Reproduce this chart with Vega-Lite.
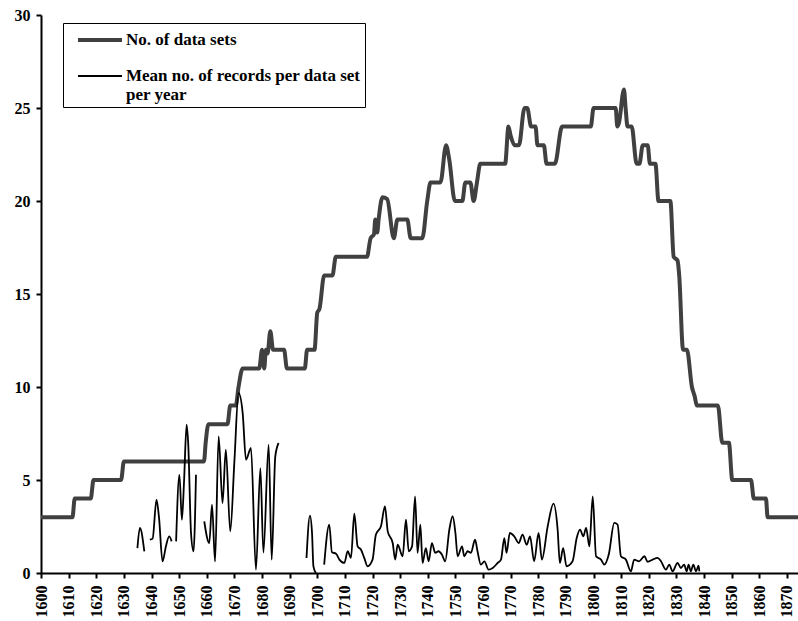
{
  "$schema": "https://vega.github.io/schema/vega-lite/v6.json",
  "width": 757,
  "height": 558,
  "autosize": {"type": "none"},
  "padding": {"left": 41, "top": 15, "right": 0, "bottom": 48},
  "background": "white",
  "config": {"view": {"stroke": null}, "font": "Liberation Serif"},
  "data": {"values": [
    {"s":"No. of data sets","g":"a","yr":1600,"v":3},
    {"s":"No. of data sets","g":"a","yr":1611.4,"v":3},
    {"s":"No. of data sets","g":"a","yr":1612.2,"v":4},
    {"s":"No. of data sets","g":"a","yr":1618,"v":4},
    {"s":"No. of data sets","g":"a","yr":1619,"v":5},
    {"s":"No. of data sets","g":"a","yr":1629,"v":5},
    {"s":"No. of data sets","g":"a","yr":1630,"v":6},
    {"s":"No. of data sets","g":"a","yr":1659,"v":6},
    {"s":"No. of data sets","g":"a","yr":1659.6,"v":7},
    {"s":"No. of data sets","g":"a","yr":1660.6,"v":8},
    {"s":"No. of data sets","g":"a","yr":1667.5,"v":8},
    {"s":"No. of data sets","g":"a","yr":1668.5,"v":9},
    {"s":"No. of data sets","g":"a","yr":1670.5,"v":9},
    {"s":"No. of data sets","g":"a","yr":1671.5,"v":10},
    {"s":"No. of data sets","g":"a","yr":1673,"v":11},
    {"s":"No. of data sets","g":"a","yr":1679,"v":11},
    {"s":"No. of data sets","g":"a","yr":1680,"v":12},
    {"s":"No. of data sets","g":"a","yr":1680.8,"v":11},
    {"s":"No. of data sets","g":"a","yr":1681.4,"v":12},
    {"s":"No. of data sets","g":"a","yr":1682,"v":11.8},
    {"s":"No. of data sets","g":"a","yr":1683,"v":13},
    {"s":"No. of data sets","g":"a","yr":1684,"v":12},
    {"s":"No. of data sets","g":"a","yr":1688,"v":12},
    {"s":"No. of data sets","g":"a","yr":1689,"v":11},
    {"s":"No. of data sets","g":"a","yr":1695.5,"v":11},
    {"s":"No. of data sets","g":"a","yr":1696.3,"v":12},
    {"s":"No. of data sets","g":"a","yr":1699,"v":12},
    {"s":"No. of data sets","g":"a","yr":1700,"v":14},
    {"s":"No. of data sets","g":"a","yr":1700.8,"v":14.2},
    {"s":"No. of data sets","g":"a","yr":1702.5,"v":16},
    {"s":"No. of data sets","g":"a","yr":1705.5,"v":16},
    {"s":"No. of data sets","g":"a","yr":1706.7,"v":17},
    {"s":"No. of data sets","g":"a","yr":1718,"v":17},
    {"s":"No. of data sets","g":"a","yr":1719.3,"v":18},
    {"s":"No. of data sets","g":"a","yr":1720.5,"v":18.2},
    {"s":"No. of data sets","g":"a","yr":1721,"v":19},
    {"s":"No. of data sets","g":"a","yr":1721.7,"v":18.3},
    {"s":"No. of data sets","g":"a","yr":1722.2,"v":19},
    {"s":"No. of data sets","g":"a","yr":1723.6,"v":20.2},
    {"s":"No. of data sets","g":"a","yr":1725.3,"v":20.1},
    {"s":"No. of data sets","g":"a","yr":1727.7,"v":18},
    {"s":"No. of data sets","g":"a","yr":1729,"v":19},
    {"s":"No. of data sets","g":"a","yr":1732.6,"v":19},
    {"s":"No. of data sets","g":"a","yr":1733.8,"v":18},
    {"s":"No. of data sets","g":"a","yr":1738,"v":18},
    {"s":"No. of data sets","g":"a","yr":1739.8,"v":20},
    {"s":"No. of data sets","g":"a","yr":1741,"v":21},
    {"s":"No. of data sets","g":"a","yr":1744.6,"v":21},
    {"s":"No. of data sets","g":"a","yr":1746.6,"v":23},
    {"s":"No. of data sets","g":"a","yr":1747.8,"v":22.2},
    {"s":"No. of data sets","g":"a","yr":1749.8,"v":20},
    {"s":"No. of data sets","g":"a","yr":1752.5,"v":20},
    {"s":"No. of data sets","g":"a","yr":1753.6,"v":21},
    {"s":"No. of data sets","g":"a","yr":1755.4,"v":21},
    {"s":"No. of data sets","g":"a","yr":1756.6,"v":20},
    {"s":"No. of data sets","g":"a","yr":1757.8,"v":21},
    {"s":"No. of data sets","g":"a","yr":1759,"v":22},
    {"s":"No. of data sets","g":"a","yr":1768,"v":22},
    {"s":"No. of data sets","g":"a","yr":1769.2,"v":24},
    {"s":"No. of data sets","g":"a","yr":1770,"v":23.5},
    {"s":"No. of data sets","g":"a","yr":1771.5,"v":23},
    {"s":"No. of data sets","g":"a","yr":1773,"v":23},
    {"s":"No. of data sets","g":"a","yr":1775,"v":25},
    {"s":"No. of data sets","g":"a","yr":1776,"v":25},
    {"s":"No. of data sets","g":"a","yr":1777.4,"v":24},
    {"s":"No. of data sets","g":"a","yr":1779,"v":24},
    {"s":"No. of data sets","g":"a","yr":1779.7,"v":23},
    {"s":"No. of data sets","g":"a","yr":1782,"v":23},
    {"s":"No. of data sets","g":"a","yr":1783,"v":22},
    {"s":"No. of data sets","g":"a","yr":1786,"v":22},
    {"s":"No. of data sets","g":"a","yr":1788.6,"v":24},
    {"s":"No. of data sets","g":"a","yr":1799,"v":24},
    {"s":"No. of data sets","g":"a","yr":1800,"v":25},
    {"s":"No. of data sets","g":"a","yr":1808,"v":25},
    {"s":"No. of data sets","g":"a","yr":1808.6,"v":24},
    {"s":"No. of data sets","g":"a","yr":1809.2,"v":24.2},
    {"s":"No. of data sets","g":"a","yr":1811,"v":26},
    {"s":"No. of data sets","g":"a","yr":1811.6,"v":25},
    {"s":"No. of data sets","g":"a","yr":1812.3,"v":24},
    {"s":"No. of data sets","g":"a","yr":1813.8,"v":24},
    {"s":"No. of data sets","g":"a","yr":1815.6,"v":22},
    {"s":"No. of data sets","g":"a","yr":1816.6,"v":22},
    {"s":"No. of data sets","g":"a","yr":1817.8,"v":23},
    {"s":"No. of data sets","g":"a","yr":1819.6,"v":23},
    {"s":"No. of data sets","g":"a","yr":1820.4,"v":22},
    {"s":"No. of data sets","g":"a","yr":1822.4,"v":22},
    {"s":"No. of data sets","g":"a","yr":1823.5,"v":20},
    {"s":"No. of data sets","g":"a","yr":1827.8,"v":20},
    {"s":"No. of data sets","g":"a","yr":1829,"v":17},
    {"s":"No. of data sets","g":"a","yr":1830.4,"v":16.8},
    {"s":"No. of data sets","g":"a","yr":1831,"v":16},
    {"s":"No. of data sets","g":"a","yr":1832.4,"v":12},
    {"s":"No. of data sets","g":"a","yr":1833.8,"v":12},
    {"s":"No. of data sets","g":"a","yr":1835.6,"v":10},
    {"s":"No. of data sets","g":"a","yr":1836.6,"v":9.5},
    {"s":"No. of data sets","g":"a","yr":1837.4,"v":9},
    {"s":"No. of data sets","g":"a","yr":1845,"v":9},
    {"s":"No. of data sets","g":"a","yr":1846.6,"v":7},
    {"s":"No. of data sets","g":"a","yr":1849,"v":7},
    {"s":"No. of data sets","g":"a","yr":1850.2,"v":5},
    {"s":"No. of data sets","g":"a","yr":1857,"v":5},
    {"s":"No. of data sets","g":"a","yr":1858,"v":4},
    {"s":"No. of data sets","g":"a","yr":1862.4,"v":4},
    {"s":"No. of data sets","g":"a","yr":1863,"v":3},
    {"s":"No. of data sets","g":"a","yr":1874,"v":3},

    {"s":"Mean no. of records per data set per year","g":"b1","yr":1634.9,"v":1.34},
    {"s":"Mean no. of records per data set per year","g":"b1","yr":1635.8,"v":2.42},
    {"s":"Mean no. of records per data set per year","g":"b1","yr":1637.4,"v":1.16},

    {"s":"Mean no. of records per data set per year","g":"b2","yr":1639.4,"v":1.79},
    {"s":"Mean no. of records per data set per year","g":"b2","yr":1640.4,"v":1.85},
    {"s":"Mean no. of records per data set per year","g":"b2","yr":1641.8,"v":3.94},
    {"s":"Mean no. of records per data set per year","g":"b2","yr":1642.7,"v":3.0},
    {"s":"Mean no. of records per data set per year","g":"b2","yr":1644,"v":0.62},
    {"s":"Mean no. of records per data set per year","g":"b2","yr":1645.2,"v":1.43},
    {"s":"Mean no. of records per data set per year","g":"b2","yr":1646.4,"v":1.97},
    {"s":"Mean no. of records per data set per year","g":"b2","yr":1647.3,"v":1.7},

    {"s":"Mean no. of records per data set per year","g":"b3","yr":1648.9,"v":1.7},
    {"s":"Mean no. of records per data set per year","g":"b3","yr":1650.1,"v":5.28},
    {"s":"Mean no. of records per data set per year","g":"b3","yr":1651.0,"v":2.86},
    {"s":"Mean no. of records per data set per year","g":"b3","yr":1651.8,"v":5.0},
    {"s":"Mean no. of records per data set per year","g":"b3","yr":1652.7,"v":7.97},
    {"s":"Mean no. of records per data set per year","g":"b3","yr":1653.3,"v":6.9},
    {"s":"Mean no. of records per data set per year","g":"b3","yr":1654.3,"v":2.15},
    {"s":"Mean no. of records per data set per year","g":"b3","yr":1655.2,"v":1.16},
    {"s":"Mean no. of records per data set per year","g":"b3","yr":1656.1,"v":5.28},

    {"s":"Mean no. of records per data set per year","g":"b4","yr":1659.1,"v":2.77},
    {"s":"Mean no. of records per data set per year","g":"b4","yr":1660.9,"v":1.61},
    {"s":"Mean no. of records per data set per year","g":"b4","yr":1661.9,"v":3.67},
    {"s":"Mean no. of records per data set per year","g":"b4","yr":1663,"v":0.62},
    {"s":"Mean no. of records per data set per year","g":"b4","yr":1664.3,"v":7.35},
    {"s":"Mean no. of records per data set per year","g":"b4","yr":1665.7,"v":3.76},
    {"s":"Mean no. of records per data set per year","g":"b4","yr":1666.9,"v":6.63},
    {"s":"Mean no. of records per data set per year","g":"b4","yr":1668.5,"v":2.24},
    {"s":"Mean no. of records per data set per year","g":"b4","yr":1670,"v":6.0},
    {"s":"Mean no. of records per data set per year","g":"b4","yr":1671.5,"v":9.68},
    {"s":"Mean no. of records per data set per year","g":"b4","yr":1673,"v":8.6},
    {"s":"Mean no. of records per data set per year","g":"b4","yr":1674.2,"v":6.09},
    {"s":"Mean no. of records per data set per year","g":"b4","yr":1676,"v":6.72},
    {"s":"Mean no. of records per data set per year","g":"b4","yr":1677.8,"v":0.18},
    {"s":"Mean no. of records per data set per year","g":"b4","yr":1679.4,"v":5.64},
    {"s":"Mean no. of records per data set per year","g":"b4","yr":1680.5,"v":1.1},
    {"s":"Mean no. of records per data set per year","g":"b4","yr":1682.4,"v":6.9},
    {"s":"Mean no. of records per data set per year","g":"b4","yr":1683.5,"v":0.72},
    {"s":"Mean no. of records per data set per year","g":"b4","yr":1684.8,"v":6.27},
    {"s":"Mean no. of records per data set per year","g":"b4","yr":1686,"v":6.99},

    {"s":"Mean no. of records per data set per year","g":"b5","yr":1696.1,"v":0.81},
    {"s":"Mean no. of records per data set per year","g":"b5","yr":1697.35,"v":3.08},
    {"s":"Mean no. of records per data set per year","g":"b5","yr":1698.1,"v":2.15},
    {"s":"Mean no. of records per data set per year","g":"b5","yr":1698.6,"v":0.36},
    {"s":"Mean no. of records per data set per year","g":"b5","yr":1699.5,"v":0.0},

    {"s":"Mean no. of records per data set per year","g":"b6","yr":1702.5,"v":0.45},
    {"s":"Mean no. of records per data set per year","g":"b6","yr":1704.35,"v":2.6},
    {"s":"Mean no. of records per data set per year","g":"b6","yr":1705.3,"v":1.11},
    {"s":"Mean no. of records per data set per year","g":"b6","yr":1706.8,"v":1.04},
    {"s":"Mean no. of records per data set per year","g":"b6","yr":1708,"v":0.72},
    {"s":"Mean no. of records per data set per year","g":"b6","yr":1709.8,"v":0.54},
    {"s":"Mean no. of records per data set per year","g":"b6","yr":1711,"v":1.17},
    {"s":"Mean no. of records per data set per year","g":"b6","yr":1712.2,"v":0.81},
    {"s":"Mean no. of records per data set per year","g":"b6","yr":1713.4,"v":3.19},
    {"s":"Mean no. of records per data set per year","g":"b6","yr":1714.6,"v":1.43},
    {"s":"Mean no. of records per data set per year","g":"b6","yr":1715.8,"v":1.26},
    {"s":"Mean no. of records per data set per year","g":"b6","yr":1717,"v":0.81},
    {"s":"Mean no. of records per data set per year","g":"b6","yr":1718.2,"v":0.36},
    {"s":"Mean no. of records per data set per year","g":"b6","yr":1720,"v":0.72},
    {"s":"Mean no. of records per data set per year","g":"b6","yr":1721.2,"v":2.06},
    {"s":"Mean no. of records per data set per year","g":"b6","yr":1723.05,"v":2.51},
    {"s":"Mean no. of records per data set per year","g":"b6","yr":1724.5,"v":3.58},
    {"s":"Mean no. of records per data set per year","g":"b6","yr":1725.5,"v":2.24},
    {"s":"Mean no. of records per data set per year","g":"b6","yr":1727.3,"v":1.61},
    {"s":"Mean no. of records per data set per year","g":"b6","yr":1728.2,"v":0.72},
    {"s":"Mean no. of records per data set per year","g":"b6","yr":1729.1,"v":1.52},
    {"s":"Mean no. of records per data set per year","g":"b6","yr":1730.9,"v":0.9},
    {"s":"Mean no. of records per data set per year","g":"b6","yr":1732.1,"v":2.87},
    {"s":"Mean no. of records per data set per year","g":"b6","yr":1733.1,"v":1.17},
    {"s":"Mean no. of records per data set per year","g":"b6","yr":1734.3,"v":1.43},
    {"s":"Mean no. of records per data set per year","g":"b6","yr":1735.4,"v":4.12},
    {"s":"Mean no. of records per data set per year","g":"b6","yr":1736.3,"v":1.08},
    {"s":"Mean no. of records per data set per year","g":"b6","yr":1737.3,"v":2.6},
    {"s":"Mean no. of records per data set per year","g":"b6","yr":1738.1,"v":0.54},
    {"s":"Mean no. of records per data set per year","g":"b6","yr":1739.3,"v":1.34},
    {"s":"Mean no. of records per data set per year","g":"b6","yr":1740.3,"v":0.63},
    {"s":"Mean no. of records per data set per year","g":"b6","yr":1741.5,"v":1.61},
    {"s":"Mean no. of records per data set per year","g":"b6","yr":1742.7,"v":1.08},
    {"s":"Mean no. of records per data set per year","g":"b6","yr":1743.9,"v":1.17},
    {"s":"Mean no. of records per data set per year","g":"b6","yr":1745.1,"v":0.99},
    {"s":"Mean no. of records per data set per year","g":"b6","yr":1746.3,"v":0.63},
    {"s":"Mean no. of records per data set per year","g":"b6","yr":1747.8,"v":2.33},
    {"s":"Mean no. of records per data set per year","g":"b6","yr":1749,"v":3.05},
    {"s":"Mean no. of records per data set per year","g":"b6","yr":1750,"v":2.15},
    {"s":"Mean no. of records per data set per year","g":"b6","yr":1750.8,"v":0.9},
    {"s":"Mean no. of records per data set per year","g":"b6","yr":1752.4,"v":1.43},
    {"s":"Mean no. of records per data set per year","g":"b6","yr":1753.2,"v":0.9},
    {"s":"Mean no. of records per data set per year","g":"b6","yr":1754.4,"v":1.17},
    {"s":"Mean no. of records per data set per year","g":"b6","yr":1755.6,"v":1.08},
    {"s":"Mean no. of records per data set per year","g":"b6","yr":1757.1,"v":1.79},
    {"s":"Mean no. of records per data set per year","g":"b6","yr":1758.0,"v":1.17},
    {"s":"Mean no. of records per data set per year","g":"b6","yr":1759.2,"v":0.45},
    {"s":"Mean no. of records per data set per year","g":"b6","yr":1760.5,"v":0.63},
    {"s":"Mean no. of records per data set per year","g":"b6","yr":1762,"v":0.18},
    {"s":"Mean no. of records per data set per year","g":"b6","yr":1763.5,"v":0.27},
    {"s":"Mean no. of records per data set per year","g":"b6","yr":1765.3,"v":0.54},
    {"s":"Mean no. of records per data set per year","g":"b6","yr":1766.5,"v":0.72},
    {"s":"Mean no. of records per data set per year","g":"b6","yr":1767.7,"v":1.88},
    {"s":"Mean no. of records per data set per year","g":"b6","yr":1768.5,"v":1.08},
    {"s":"Mean no. of records per data set per year","g":"b6","yr":1769.7,"v":2.15},
    {"s":"Mean no. of records per data set per year","g":"b6","yr":1771.3,"v":1.97},
    {"s":"Mean no. of records per data set per year","g":"b6","yr":1772.9,"v":1.61},
    {"s":"Mean no. of records per data set per year","g":"b6","yr":1774.3,"v":2.06},
    {"s":"Mean no. of records per data set per year","g":"b6","yr":1775.8,"v":1.52},
    {"s":"Mean no. of records per data set per year","g":"b6","yr":1777,"v":1.97},
    {"s":"Mean no. of records per data set per year","g":"b6","yr":1778.5,"v":0.63},
    {"s":"Mean no. of records per data set per year","g":"b6","yr":1780.1,"v":2.15},
    {"s":"Mean no. of records per data set per year","g":"b6","yr":1781.3,"v":0.72},
    {"s":"Mean no. of records per data set per year","g":"b6","yr":1783.4,"v":2.51},
    {"s":"Mean no. of records per data set per year","g":"b6","yr":1785.5,"v":3.73},
    {"s":"Mean no. of records per data set per year","g":"b6","yr":1787,"v":2.33},
    {"s":"Mean no. of records per data set per year","g":"b6","yr":1787.8,"v":0.54},
    {"s":"Mean no. of records per data set per year","g":"b6","yr":1789,"v":1.34},
    {"s":"Mean no. of records per data set per year","g":"b6","yr":1790.2,"v":0.36},
    {"s":"Mean no. of records per data set per year","g":"b6","yr":1792.4,"v":0.63},
    {"s":"Mean no. of records per data set per year","g":"b6","yr":1793.9,"v":1.88},
    {"s":"Mean no. of records per data set per year","g":"b6","yr":1795.1,"v":2.33},
    {"s":"Mean no. of records per data set per year","g":"b6","yr":1796.3,"v":1.97},
    {"s":"Mean no. of records per data set per year","g":"b6","yr":1797.3,"v":2.42},
    {"s":"Mean no. of records per data set per year","g":"b6","yr":1798.5,"v":1.43},
    {"s":"Mean no. of records per data set per year","g":"b6","yr":1799.7,"v":4.12},
    {"s":"Mean no. of records per data set per year","g":"b6","yr":1800.9,"v":0.9},
    {"s":"Mean no. of records per data set per year","g":"b6","yr":1802.7,"v":0.72},
    {"s":"Mean no. of records per data set per year","g":"b6","yr":1803.9,"v":0.45},
    {"s":"Mean no. of records per data set per year","g":"b6","yr":1805.5,"v":0.99},
    {"s":"Mean no. of records per data set per year","g":"b6","yr":1807.5,"v":2.69},
    {"s":"Mean no. of records per data set per year","g":"b6","yr":1808.7,"v":2.6},
    {"s":"Mean no. of records per data set per year","g":"b6","yr":1809.9,"v":0.9},
    {"s":"Mean no. of records per data set per year","g":"b6","yr":1811.7,"v":0.72},
    {"s":"Mean no. of records per data set per year","g":"b6","yr":1813.5,"v":0.09},
    {"s":"Mean no. of records per data set per year","g":"b6","yr":1814.7,"v":0.72},
    {"s":"Mean no. of records per data set per year","g":"b6","yr":1816.5,"v":0.63},
    {"s":"Mean no. of records per data set per year","g":"b6","yr":1818.4,"v":0.9},
    {"s":"Mean no. of records per data set per year","g":"b6","yr":1819.6,"v":0.6},
    {"s":"Mean no. of records per data set per year","g":"b6","yr":1821.4,"v":0.72},
    {"s":"Mean no. of records per data set per year","g":"b6","yr":1823.2,"v":0.81},
    {"s":"Mean no. of records per data set per year","g":"b6","yr":1824.4,"v":0.63},
    {"s":"Mean no. of records per data set per year","g":"b6","yr":1826.2,"v":0.18},
    {"s":"Mean no. of records per data set per year","g":"b6","yr":1827.4,"v":0.45},
    {"s":"Mean no. of records per data set per year","g":"b6","yr":1828.6,"v":0.09},
    {"s":"Mean no. of records per data set per year","g":"b6","yr":1830.4,"v":0.54},
    {"s":"Mean no. of records per data set per year","g":"b6","yr":1831.6,"v":0.27},
    {"s":"Mean no. of records per data set per year","g":"b6","yr":1832.8,"v":0.45},
    {"s":"Mean no. of records per data set per year","g":"b6","yr":1833.7,"v":0.09},
    {"s":"Mean no. of records per data set per year","g":"b6","yr":1834.4,"v":0.45},
    {"s":"Mean no. of records per data set per year","g":"b6","yr":1835.2,"v":0.09},
    {"s":"Mean no. of records per data set per year","g":"b6","yr":1836.1,"v":0.45},
    {"s":"Mean no. of records per data set per year","g":"b6","yr":1837.1,"v":0.09},
    {"s":"Mean no. of records per data set per year","g":"b6","yr":1838,"v":0.39},
    {"s":"Mean no. of records per data set per year","g":"b6","yr":1838.3,"v":0.09}
  ]},
  "encoding": {
    "x": {
      "field": "yr", "type": "quantitative",
      "scale": {"domain": [1600, 1874], "nice": false, "zero": false},
      "axis": {
        "title": null, "values": [1600,1610,1620,1630,1640,1650,1660,1670,1680,1690,1700,1710,1720,1730,1740,1750,1760,1770,1780,1790,1800,1810,1820,1830,1840,1850,1860,1870],
        "format": "d", "labelAngle": -90, "labelAlign": "right", "labelBaseline": "middle",
        "labelFont": "Liberation Serif", "labelFontWeight": "bold", "labelFontSize": 16, "labelColor": "black",
        "labelPadding": 7, "labelOverlap": false, "labelFlush": false,
        "domainColor": "black", "domainWidth": 2, "tickColor": "black", "tickWidth": 2, "tickSize": 5,
        "grid": false
      }
    },
    "y": {
      "field": "v", "type": "quantitative",
      "scale": {"domain": [0, 30], "nice": false},
      "axis": {
        "title": null, "values": [0,5,10,15,20,25,30],
        "labelFont": "Liberation Serif", "labelFontWeight": "bold", "labelFontSize": 16, "labelColor": "black",
        "labelPadding": 6, "domainColor": "black", "domainWidth": 2, "tickColor": "black", "tickWidth": 2, "tickSize": 5,
        "grid": false
      }
    },
    "color": {
      "field": "s", "type": "nominal",
      "scale": {"domain": ["No. of data sets", "Mean no. of records per data set per year"], "range": ["#404040", "#000000"]},
      "legend": {
        "title": null, "orient": "none", "legendX": 22, "legendY": 8,
        "symbolType": "M-2,0H2", "symbolSize": 484, "symbolOffset": 20, "symbolFillColor": "transparent",
        "labelFont": "Liberation Serif", "labelFontWeight": "bold", "labelFontSize": 17, "labelColor": "black",
        "labelLimit": 400, "labelOffset": 13, "rowPadding": 16,
        "labelExpr": "datum.label == 'Mean no. of records per data set per year' ? ['Mean no. of records per data set', 'per year'] : datum.label",
        "strokeColor": "black", "fillColor": "white", "padding": 4
      }
    },
    "strokeWidth": {
      "field": "s", "type": "nominal",
      "scale": {"domain": ["No. of data sets", "Mean no. of records per data set per year"], "range": [4, 1.8]},
      "legend": {
        "title": null, "orient": "none", "legendX": 22, "legendY": 8,
        "symbolType": "M-2,0H2", "symbolSize": 484, "symbolOffset": 20, "symbolFillColor": "transparent",
        "labelFont": "Liberation Serif", "labelFontWeight": "bold", "labelFontSize": 17, "labelColor": "black",
        "labelLimit": 400, "labelOffset": 13, "rowPadding": 16,
        "labelExpr": "datum.label == 'Mean no. of records per data set per year' ? ['Mean no. of records per data set', 'per year'] : datum.label",
        "strokeColor": "black", "fillColor": "white", "padding": 4
      }
    },
    "detail": {"field": "g", "type": "nominal"}
  },
  "layer": [
    {
      "transform": [{"filter": "datum.s == 'No. of data sets'"}],
      "mark": {"type": "line", "interpolate": "monotone", "strokeJoin": "round"}
    },
    {
      "transform": [{"filter": "datum.s != 'No. of data sets'"}],
      "mark": {"type": "line", "interpolate": "monotone", "strokeJoin": "round"}
    }
  ]
}
